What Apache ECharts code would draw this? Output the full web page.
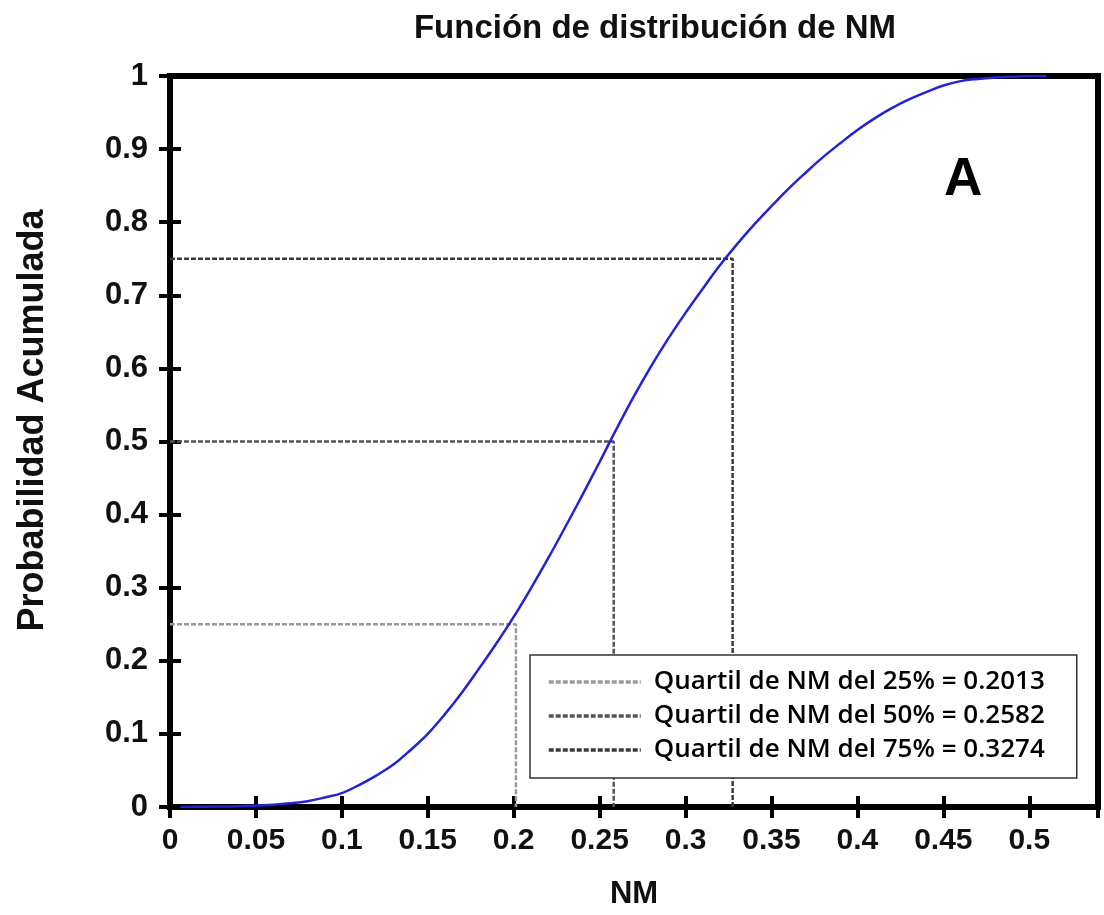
<!DOCTYPE html>
<html>

<head>
    <meta charset="UTF-8">
    <title>Función de distribución de NM</title>
    <script src="https://cdn.jsdelivr.net/npm/echarts/dist/echarts.min.js"></script>
</head>

<body style="margin:0;background:#fff;">
    <div id="chart" style="width: 1104px;height:915px;"></div>
    <script type="text/javascript">
        var myChart = echarts.init(document.getElementById('chart'));

        // NM values and cumulative probability
        var nmValues = [0.006, 0.02, 0.04, 0.05, 0.06, 0.07, 0.08, 0.09, 0.10, 0.11, 0.12, 0.13, 0.14, 0.15,
            0.16, 0.17, 0.18, 0.19, 0.20, 0.21, 0.22, 0.23, 0.24, 0.25, 0.26, 0.27, 0.28, 0.29, 0.30,
            0.31, 0.32, 0.33, 0.34, 0.35, 0.36, 0.37, 0.38, 0.39, 0.40, 0.41, 0.42, 0.43, 0.44, 0.45,
            0.46, 0.47, 0.48, 0.49, 0.50, 0.51];
        var cumProb = [0, 0.0005, 0.001, 0.002, 0.003, 0.005, 0.008, 0.013, 0.019, 0.03, 0.043, 0.058, 0.078, 0.10,
            0.127, 0.157, 0.19, 0.224, 0.26, 0.299, 0.34, 0.383, 0.427, 0.472, 0.518, 0.562, 0.603, 0.641, 0.676,
            0.709, 0.741, 0.77, 0.797, 0.822, 0.846, 0.868, 0.889, 0.908, 0.926, 0.942, 0.956, 0.968, 0.978, 0.987,
            0.993, 0.996, 0.998, 0.999, 1.0, 1.0];

        // quartiles
        var quartNames = ['Quartil de NM del 25% = 0.2013', 'Quartil de NM del 50% = 0.2582', 'Quartil de NM del 75% = 0.3274'];
        var quartValues = [0.2013, 0.2582, 0.3274];
        var quartProbs = [0.25, 0.5, 0.75];
        var quartColors = ['#9a9a9a', '#555555', '#3a3a3a'];

        var xTicks = [0, 0.05, 0.1, 0.15, 0.2, 0.25, 0.3, 0.35, 0.4, 0.45, 0.5];

        var font = 'Liberation Sans, Arial, sans-serif';

        var curveData = nmValues.map(function (v, i) { return [v, cumProb[i]]; });

        var series = [{
            name: 'CDF',
            type: 'line',
            data: curveData,
            smooth: 0.4,
            showSymbol: false,
            symbol: 'none',
            lineStyle: { color: '#2323d6', width: 2.5 },
            z: 5
        }];

        quartValues.forEach(function (q, i) {
            series.push({
                name: quartNames[i],
                type: 'line',
                data: [[0, quartProbs[i]], [q, quartProbs[i]], [q, 0]],
                symbol: 'none',
                color: quartColors[i],
                lineStyle: { color: quartColors[i], width: 2.5, type: [5, 2] },
                z: 3
            });
        });

        var option = {
            backgroundColor: '#fff',
            animation: false,
            title: {
                text: 'Función de distribución de NM',
                left: 650,
                textAlign: 'center',
                top: 7,
                textStyle: { fontFamily: font, fontWeight: 'bold', fontSize: 33, color: '#111' }
            },
            legend: {
                data: quartNames.map(function (n, i) {
                    return { name: n, lineStyle: { color: quartColors[i], width: 3.5, type: [5, 2] } };
                }),
                orient: 'vertical',
                left: 530,
                top: 655,
                padding: [14, 32, 15, 17],
                backgroundColor: '#fff',
                borderColor: '#333',
                borderWidth: 1.5,
                borderRadius: 0,
                itemWidth: 92,
                itemHeight: 14,
                itemGap: 8,
                itemStyle: { opacity: 0 },
                textStyle: {
                    fontFamily: 'Open Sans, Noto Sans, sans-serif',
                    fontWeight: 600,
                    fontSize: 26,
                    lineHeight: 26,
                    color: '#000',
                    padding: [0, 0, 0, 8]
                }
            },
            grid: {
                left: 170,
                top: 76,
                right: 6,
                bottom: 107,
                show: true,
                borderColor: '#000',
                borderWidth: 6
            },
            graphic: [{
                type: 'text',
                left: 944,
                top: 154,
                style: {
                    text: 'A',
                    font: 'bold 53px ' + font,
                    fill: '#000'
                }
            }],
            xAxis: [{
                type: 'value',
                min: 0,
                max: 0.54,
                interval: 0.05,
                name: 'NM',
                nameLocation: 'middle',
                nameGap: 72,
                nameTextStyle: { fontFamily: font, fontWeight: 'bold', fontSize: 31, color: '#111' },
                axisLine: { show: true, onZero: false, lineStyle: { color: '#000', width: 6 } },
                axisTick: { show: true, inside: true, length: 11, lineStyle: { color: '#000', width: 4 } },
                splitLine: { show: false },
                axisLabel: {
                    margin: 19,
                    showMaxLabel: false,
                    fontFamily: font, fontWeight: 'bold', fontSize: 30, color: '#111',
                    formatter: function (v) {
                        return xTicks.indexOf(Math.round(v * 100) / 100) >= 0 ? String(Math.round(v * 100) / 100) : '';
                    }
                }
            }, {
                type: 'value',
                position: 'top',
                min: 0,
                max: 0.54,
                interval: 0.05,
                axisLine: { show: false },
                axisTick: { show: true, inside: true, length: 11, lineStyle: { color: '#000', width: 4 } },
                axisLabel: { show: false },
                splitLine: { show: false }
            }],
            yAxis: [{
                type: 'value',
                min: 0,
                max: 1,
                interval: 0.1,
                name: 'Probabilidad Acumulada',
                nameLocation: 'middle',
                nameGap: 119,
                nameTextStyle: { fontFamily: font, fontWeight: 'bold', fontSize: 36, color: '#111', padding: [0, 0, 0, 42] },
                axisLine: { show: true, lineStyle: { color: '#000', width: 6 } },
                axisTick: { show: true, inside: true, length: 11, lineStyle: { color: '#000', width: 4 } },
                splitLine: { show: false },
                axisLabel: {
                    margin: 22,
                    fontFamily: font, fontWeight: 'bold', fontSize: 31, color: '#111',
                    formatter: function (v) { return String(Math.round(v * 10) / 10); }
                }
            }, {
                type: 'value',
                position: 'right',
                min: 0,
                max: 1,
                interval: 0.1,
                axisLine: { show: false },
                axisTick: { show: true, inside: true, length: 11, lineStyle: { color: '#000', width: 4 } },
                axisLabel: { show: false },
                splitLine: { show: false }
            }],
            series: series
        };

        myChart.setOption(option);
    </script>
</body>

</html>
